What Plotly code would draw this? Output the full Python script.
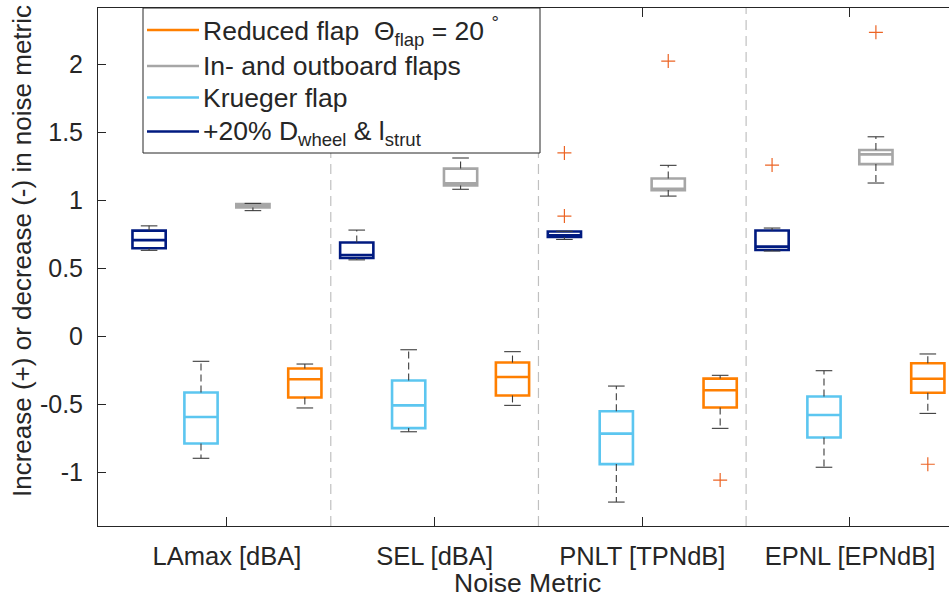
import plotly.graph_objects as go

# Noise metrics (x categories)
categories = ["LAmax [dBA]", "SEL [dBA]", "PNLT [TPNdB]", "EPNL [EPNdB]"]

# Configuration names (legend order, top to bottom)
legend_names = [
    "Reduced flap  \u0398<sub>flap</sub> = 20 <sup>\u00b0</sup>",
    "In- and outboard flaps",
    "Krueger flap",
    "+20% D<sub>wheel</sub> & l<sub>strut</sub>",
]

# Box statistics per configuration, one value per noise metric
# +20% D_wheel & l_strut
wheel_min = [0.630, 0.560, 0.710, 0.625]
wheel_q1 = [0.645, 0.574, 0.728, 0.632]
wheel_med = [0.705, 0.596, 0.740, 0.657]
wheel_q3 = [0.775, 0.688, 0.768, 0.776]
wheel_max = [0.810, 0.779, 0.770, 0.794]
wheel_out = [[], [], [1.346, 0.882], [1.257]]

# Krueger flap
krueger_min = [-0.899, -0.704, -1.221, -0.965]
krueger_q1 = [-0.790, -0.677, -0.942, -0.746]
krueger_med = [-0.596, -0.510, -0.718, -0.581]
krueger_q3 = [-0.415, -0.327, -0.553, -0.445]
krueger_max = [-0.186, -0.101, -0.368, -0.255]
krueger_out = [[], [], [], []]

# In- and outboard flaps
inout_min = [0.922, 1.079, 1.029, 1.125]
inout_q1 = [0.945, 1.107, 1.073, 1.264]
inout_med = [0.955, 1.123, 1.083, 1.336]
inout_q3 = [0.970, 1.231, 1.158, 1.368]
inout_max = [0.975, 1.309, 1.255, 1.465]
inout_out = [[], [], [2.022], [2.233]]

# Reduced flap, Theta_flap = 20 deg
reduced_min = [-0.529, -0.510, -0.679, -0.569]
reduced_q1 = [-0.452, -0.437, -0.526, -0.417]
reduced_med = [-0.318, -0.301, -0.399, -0.314]
reduced_q3 = [-0.239, -0.195, -0.313, -0.200]
reduced_max = [-0.206, -0.115, -0.289, -0.132]
reduced_out = [[], [], [-1.059], [-0.943]]

colors = {
    "wheel": "#001a80",
    "krueger": "#5cc6f0",
    "inout": "#a6a6a6",
    "reduced": "#ff7f00",
}
offsets = {"wheel": -0.375, "krueger": -0.125, "inout": 0.125, "reduced": 0.375}

series = [
    ("wheel", wheel_min, wheel_q1, wheel_med, wheel_q3, wheel_max, wheel_out),
    ("krueger", krueger_min, krueger_q1, krueger_med, krueger_q3, krueger_max, krueger_out),
    ("inout", inout_min, inout_q1, inout_med, inout_q3, inout_max, inout_out),
    ("reduced", reduced_min, reduced_q1, reduced_med, reduced_q3, reduced_max, reduced_out),
]

FONT = "Liberation Sans, Arial, Helvetica, sans-serif"
TXT = "#262626"
WHISKER = "#3c3c3c"
OUTLIER = "#ec6424"
BOX_W = 0.16
CAP_HALF = 0.04

fig = go.Figure()
group_x = list(range(1, len(categories) + 1))

for key, mn, q1, med, q3, mx, out in series:
    xs = [g + offsets[key] for g in group_x]
    # dashed whiskers and solid caps
    wx, wy = [], []
    cx, cy = [], []
    for x, a, b, c, d in zip(xs, mn, q1, q3, mx):
        wx += [x, x, None, x, x, None]
        wy += [c, d, None, b, a, None]
        cx += [x - CAP_HALF, x + CAP_HALF, None, x - CAP_HALF, x + CAP_HALF, None]
        cy += [d, d, None, a, a, None]
    fig.add_trace(go.Scatter(x=wx, y=wy, mode="lines", showlegend=False, hoverinfo="skip",
                             line=dict(color=WHISKER, width=1.1, dash="7px,4px")))
    fig.add_trace(go.Scatter(x=cx, y=cy, mode="lines", showlegend=False, hoverinfo="skip",
                             line=dict(color=WHISKER, width=1.1)))
    # boxes with medians
    fig.add_trace(go.Box(
        x=xs, q1=q1, median=med, q3=q3, lowerfence=q1, upperfence=q3,
        width=BOX_W, whiskerwidth=0, fillcolor="rgba(255,255,255,0)",
        line=dict(color=colors[key], width=2.6), boxpoints=False,
        showlegend=False,
    ))
    # outliers
    ox, oy = [], []
    for x, vals in zip(xs, out):
        for v in vals:
            ox.append(x)
            oy.append(v)
    if ox:
        fig.add_trace(go.Scatter(x=ox, y=oy, mode="markers", showlegend=False,
                                 marker=dict(symbol="cross-thin", size=10,
                                             line=dict(color=OUTLIER, width=1.2))))

# dashed separators between metrics
for g in group_x[:-1]:
    fig.add_shape(type="line", xref="x", yref="paper", x0=g + 0.5, x1=g + 0.5, y0=0, y1=1,
                  line=dict(color="#c0c0c0", width=1.2, dash="10px,6px"), layer="below")

# legend box drawn in paper coordinates
W_PLOT, H_PLOT, L, T = 851.0, 518.0, 98.0, 8.0


def px(xp):
    return (xp - L) / W_PLOT


def py(yp):
    return (T + H_PLOT - yp) / H_PLOT


fig.add_shape(type="rect", xref="paper", yref="paper", x0=px(143), x1=px(540), y0=py(153), y1=py(8),
              line=dict(color=TXT, width=1), fillcolor="white", layer="above")
legend_colors = [colors["reduced"], colors["inout"], colors["krueger"], colors["wheel"]]
legend_rows = [30, 66, 97.5, 131.5]
text_rows = [31, 66, 98, 133]
for name, col, ly, ty in zip(legend_names, legend_colors, legend_rows, text_rows):
    fig.add_shape(type="line", xref="paper", yref="paper", x0=px(147), x1=px(199), y0=py(ly), y1=py(ly),
                  line=dict(color=col, width=2.6), layer="above")
    fig.add_annotation(xref="paper", yref="paper", x=px(201), y=py(ty), xanchor="left", yanchor="middle",
                       text=name, showarrow=False, font=dict(family=FONT, size=26.5, color=TXT))

# axis titles
fig.add_annotation(xref="paper", yref="paper", x=px(527), y=py(583), xanchor="center", yanchor="middle",
                   text="Noise Metric", showarrow=False, font=dict(family=FONT, size=26.5, color=TXT))
fig.add_annotation(xref="paper", yref="paper", x=px(22), y=py(251), xanchor="center", yanchor="middle",
                   text="Increase (+) or decrease (-) in noise metric", textangle=-90, showarrow=False,
                   font=dict(family=FONT, size=26, color=TXT))

fig.update_layout(
    width=949, height=599, autosize=False,
    margin=dict(l=98, r=0, t=8, b=73),
    paper_bgcolor="white", plot_bgcolor="white",
    boxmode="overlay", showlegend=False,
    font=dict(family=FONT, size=25, color=TXT),
)
fig.update_xaxes(
    range=[0.379, 4.477], tickmode="array", tickvals=group_x, ticktext=categories,
    ticks="inside", ticklen=9, tickcolor=TXT, tickwidth=1,
    showline=True, linecolor=TXT, linewidth=1, mirror="ticks",
    showgrid=False, zeroline=False, ticklabelstandoff=7,
    tickfont=dict(family=FONT, size=25.5, color=TXT),
)
fig.update_yaxes(
    range=[-1.397, 2.412], tickmode="array", tickvals=[-1, -0.5, 0, 0.5, 1, 1.5, 2],
    ticktext=["-1", "-0.5", "0", "0.5", "1", "1.5", "2"],
    ticks="inside", ticklen=8, tickcolor=TXT, tickwidth=1,
    showline=True, linecolor=TXT, linewidth=1,
    showgrid=False, zeroline=False, ticklabelstandoff=9,
    tickfont=dict(family=FONT, size=25, color=TXT),
)

fig.write_html("out.html")
